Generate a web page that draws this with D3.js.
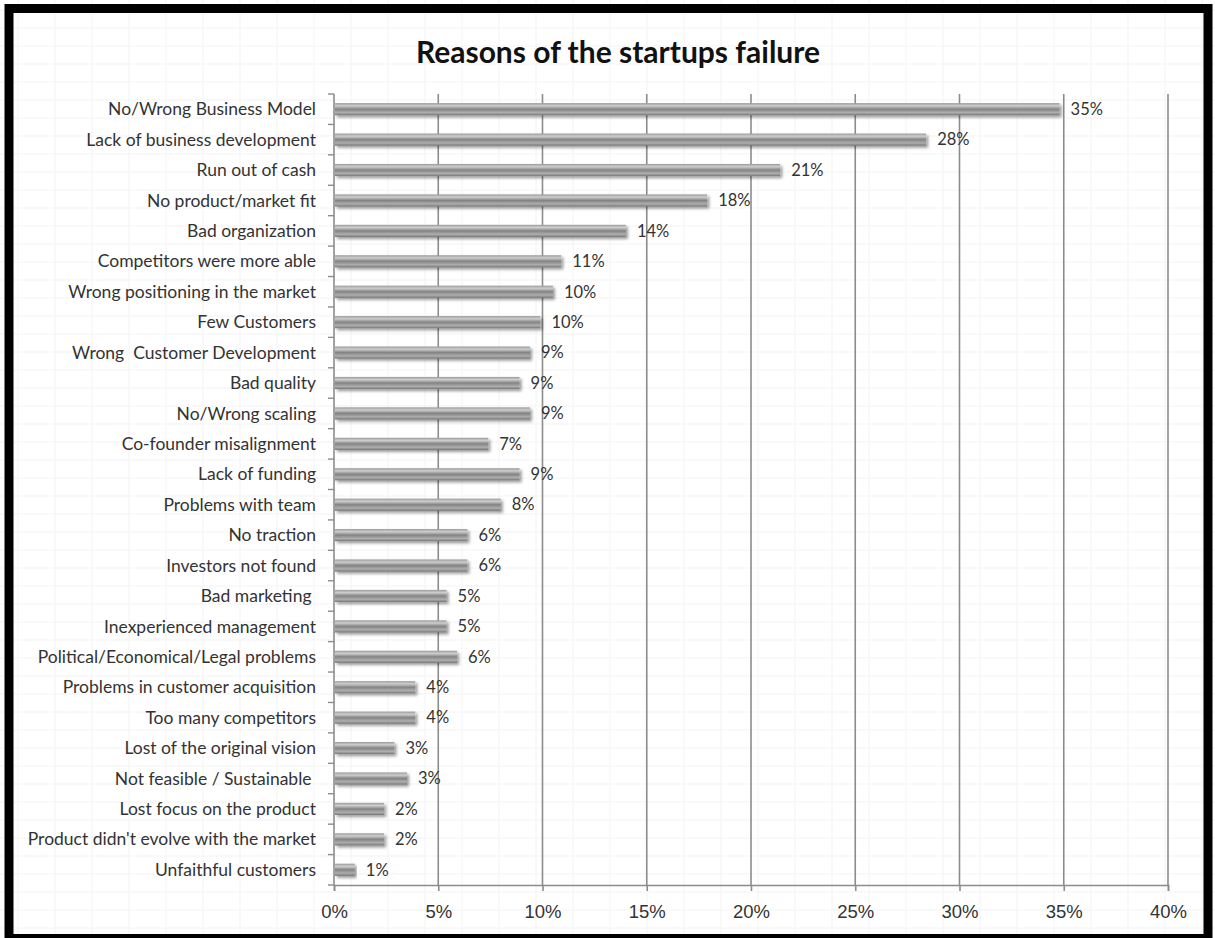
<!DOCTYPE html>
<html>
<head>
<meta charset="utf-8">
<script src="https://cdn.jsdelivr.net/npm/d3@7"></script>
<style>
  body { margin: 0; background: #fff; }
  svg { display: block; }
</style>
</head>
<body>
<div id="chart"></div>
<script>
// reasons, top to bottom as in the picture
var reasons = [
  "No/Wrong Business Model",
  "Lack of business development",
  "Run out of cash",
  "No product/market fit",
  "Bad organization",
  "Competitors were more able",
  "Wrong positioning in the market",
  "Few Customers",
  "Wrong  Customer Development",
  "Bad quality",
  "No/Wrong scaling",
  "Co-founder misalignment",
  "Lack of funding",
  "Problems with team",
  "No traction",
  "Investors not found",
  "Bad marketing ",
  "Inexperienced management",
  "Political/Economical/Legal problems",
  "Problems in customer acquisition",
  "Too many competitors",
  "Lost of the original vision",
  "Not feasible / Sustainable ",
  "Lost focus on the product",
  "Product didn't evolve with the market",
  "Unfaithful customers"
];

var shares = [34.8, 28.4, 21.4, 17.9, 14.0, 10.9, 10.5, 9.9, 9.4, 8.9, 9.4, 7.4, 8.9,
  8.0, 6.4, 6.4, 5.4, 5.4, 5.9, 3.9, 3.9, 2.9, 3.5, 2.4, 2.4, 1.0];

// data labels as printed
var labels = ["35%", "28%", "21%", "18%", "14%", "11%", "10%", "10%", "9%", "9%", "9%", "7%", "9%",
  "8%", "6%", "6%", "5%", "5%", "6%", "4%", "4%", "3%", "3%", "2%", "2%", "1%"];

var xTicks = [0, 5, 10, 15, 20, 25, 30, 35, 40];

var width = 1215;
var height = 938;
var plotLeft = 334, plotRight = 1168, plotTop = 94, plotBottom = 885;
var font = "Lato, 'Open Sans', sans-serif";
var tickFont = "'Liberation Sans', Arial, sans-serif";

var svg = d3.select("#chart").
append("svg").
attr("width", width).
attr("height", height);

var defs = svg.append("defs");

var grad = defs.append("linearGradient").
attr("id", "barGrad").
attr("x1", 0).attr("y1", 0).attr("x2", 0).attr("y2", 1);
[[0, "#9a9a9a"], [0.22, "#cecece"], [0.5, "#838383"], [0.78, "#aeaeae"], [1, "#767676"]].forEach(function (s) {
  grad.append("stop").attr("offset", s[0]).attr("stop-color", s[1]);
});

var shadow = defs.append("filter").
attr("id", "shadow").
attr("x", "-5%").attr("y", "-50%").attr("width", "115%").attr("height", "220%");
shadow.append("feDropShadow").
attr("dx", 2).attr("dy", 2).
attr("stdDeviation", 1.6).
attr("flood-color", "#000").
attr("flood-opacity", 0.4);

// faint spreadsheet cells in the background
var bg = svg.append("g").attr("id", "cells");
d3.range(18, width, 37).forEach(function (x) {
  bg.append("line").attr("x1", x).attr("x2", x).attr("y1", 0).attr("y2", height).
  style("stroke", "#f3f3f3").style("stroke-width", 1);
});
d3.range(10, height, 18).forEach(function (y) {
  bg.append("line").attr("x1", 0).attr("x2", width).attr("y1", y).attr("y2", y).
  style("stroke", "#f3f3f3").style("stroke-width", 1);
});

var xScale = d3.scaleLinear().
domain([0, 40]).
range([plotLeft, plotRight]);

var yScale = d3.scaleBand().
domain(reasons).
range([plotTop, plotBottom]).
paddingInner(0.6).
paddingOuter(0.3);

// vertical gridlines
svg.append("g").
attr("id", "grid").
selectAll("line").
data(xTicks.slice(1)).
enter().
append("line").
attr("x1", function (d) {return xScale(d);}).
attr("x2", function (d) {return xScale(d);}).
attr("y1", plotTop).
attr("y2", plotBottom).
style("stroke", "#8c8c8c").
style("stroke-width", 1.6);

var xAxis = d3.axisBottom(xScale).
tickValues(xTicks).
tickFormat(function (d) {return d + "%";}).
tickSize(6).
tickPadding(14);

var gx = svg.append("g").
attr("id", "x-axis").
attr("transform", "translate(0," + plotBottom + ")").
call(xAxis);
gx.select(".domain").style("stroke", "#8c8c8c").style("stroke-width", 1.6);
gx.selectAll(".tick line").style("stroke", "#8c8c8c").style("stroke-width", 1.6);
gx.selectAll("text").
style("font-family", tickFont).
style("font-size", "18.5px").
style("fill", "#333");

// y axis: line with ticks between categories
var ya = svg.append("g").attr("id", "y-axis");
ya.append("line").
attr("x1", plotLeft).attr("x2", plotLeft).attr("y1", plotTop).attr("y2", plotBottom).
style("stroke", "#8c8c8c").style("stroke-width", 1.6);
ya.selectAll(".ytick").
data(d3.range(reasons.length + 1)).
enter().
append("line").
attr("class", "ytick").
attr("x1", plotLeft - 6).attr("x2", plotLeft).
attr("y1", function (i) {return plotTop + i * (plotBottom - plotTop) / reasons.length;}).
attr("y2", function (i) {return plotTop + i * (plotBottom - plotTop) / reasons.length;}).
style("stroke", "#8c8c8c").style("stroke-width", 1.4);

ya.selectAll(".ylabel").
data(reasons).
enter().
append("text").
attr("class", "ylabel").
attr("x", plotLeft - 18).
attr("y", function (d) {return yScale(d) + yScale.bandwidth() / 2;}).
attr("dy", "0.35em").
style("text-anchor", "end").
style("font-family", font).
style("font-size", "17.5px").
style("fill", "#333").
style("white-space", "pre").
text(function (d) {return d;});

var rows = reasons.map(function (r, i) {return { reason: r, share: shares[i], label: labels[i] };});

svg.append("g").
attr("id", "bars").
selectAll("rect").
data(rows).
enter().
append("rect").
attr("x", xScale(0) + 1).
attr("y", function (d) {return yScale(d.reason);}).
attr("width", function (d) {return xScale(d.share) - xScale(0) - 1;}).
attr("height", yScale.bandwidth()).
style("fill", "url(#barGrad)").
attr("filter", "url(#shadow)");

svg.append("g").
attr("id", "labels").
selectAll("text").
data(rows).
enter().
append("text").
attr("x", function (d) {return xScale(d.share) + 11;}).
attr("y", function (d) {return yScale(d.reason) + yScale.bandwidth() / 2;}).
attr("dy", "0.35em").
style("font-family", font).
style("font-size", "16.5px").
style("fill", "#333").
text(function (d) {return d.label;});

svg.append("text").
attr("id", "title").
attr("x", 618).
attr("y", 52).
attr("dy", "0.35em").
style("text-anchor", "middle").
style("font-family", font).
style("font-weight", "bold").
style("font-size", "30px").
style("fill", "#111").
text("Reasons of the startups failure");

// heavy black frame
svg.append("rect").
attr("x", 9).
attr("y", 8.5).
attr("width", 1199).
attr("height", 930).
style("fill", "none").
style("stroke", "#000").
style("stroke-width", 9);
</script>
</body>
</html>
